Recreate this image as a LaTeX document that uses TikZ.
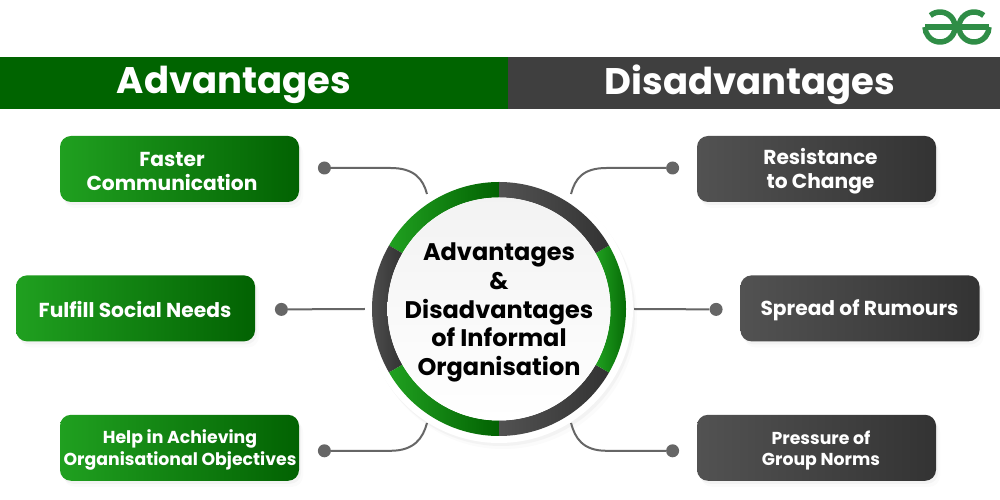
\documentclass[tikz,border=0pt]{standalone}
\usepackage{fontspec}
\setmainfont{Poppins}
\usepackage{xcolor}
\usetikzlibrary{arrows.meta,positioning,shadows}
\definecolor{gfggreen}{HTML}{2F8D46}
\definecolor{barGreen}{HTML}{006400}
\definecolor{barGrey}{HTML}{3F3F3F}
\definecolor{wireGrey}{HTML}{666666}
\definecolor{lightGreen}{HTML}{20A020}
\definecolor{deepGreen}{HTML}{026202}
\definecolor{lightGrey}{HTML}{525252}
\definecolor{deepGrey}{HTML}{333333}
\tikzset{
  softshadow/.style={drop shadow={shadow xshift=2pt,shadow yshift=-3pt,opacity=.06},
    drop shadow={shadow xshift=4pt,shadow yshift=-6pt,opacity=.03}},
  box/.style={rounded corners=11pt,minimum width=239pt,minimum height=66pt,inner sep=0pt,softshadow},
  greenbox/.style={box,left color=lightGreen,right color=deepGreen},
  greybox/.style={box,left color=lightGrey,right color=deepGrey},
  boxtext/.style={text=white,align=center,inner sep=0pt,font=\fontsize{20.2}{24.5}\selectfont\bfseries},
  smalltext/.style={boxtext,font=\fontsize{17.3}{21.5}\selectfont\bfseries},
  bar/.style={minimum height=52pt,inner sep=0pt,text=white,font=\fontsize{37}{37}\selectfont\bfseries},
  dot/.style={circle,fill=wireGrey,minimum size=13pt,inner sep=0pt},
  wire/.style={wireGrey,line width=2pt},
  logo/.style={gfggreen,line width=5.5pt}
}
\begin{document}
\begin{tikzpicture}[x=1pt,y=1pt]
\useasboundingbox (0,0) rectangle (1000,500);
\fill[white] (0,0) rectangle (1000,500);

% header
\node[bar,fill=barGreen,minimum width=508pt] (advbar) at (254,417) {};
\node[bar,fill=barGrey,minimum width=492pt,right=0pt of advbar] (disbar) {};
\node[bar] (advtitle) at (234,415.5) {Advantages};
\node[bar] (distitle) at (750,415.5) {Disadvantages};

% logo
\draw[logo] (925,473) -- (989,473);
\draw[logo] (940,473) ++(130:15) arc (130:-180:15);
\draw[logo] (974,473) ++(50:15) arc (50:360:15);

% boxes on the left
\node[greenbox] (faster) at (179.5,331) {};
\node[greenbox] (social) [below=73pt of faster,xshift=-44pt] {};
\node[greenbox] (help) [below=73pt of social,xshift=44pt] {};
\node[boxtext] (fastertext) at ([shift={(-7.5,-2.5)}]faster.center) {Faster\\Communication};
\node[boxtext] (socialtext) at ([shift={(-.5,-1)}]social.center) {Fulfill Social Needs};
\node[smalltext] (helptext) at ([shift={(.5,-2)}]help.center) {Help in Achieving\\Organisational Objectives};

% boxes on the right
\node[greybox] (resist) at (816.5,331) {};
\node[greybox] (rumours) [below=73pt of resist,xshift=43.5pt] {};
\node[greybox] (norms) [below=73pt of rumours,xshift=-43.5pt] {};
\node[boxtext] (resisttext) at ([shift={(4,-2)}]resist.center) {Resistance\\to Change};
\node[boxtext] (rumourstext) at ([shift={(-.5,-1.5)}]rumours.center) {Spread of Rumours};
\node[smalltext] (normstext) at ([shift={(4.5,-2.5)}]norms.center) {Pressure of\\Group Norms};

% dots
\node[dot] (fasterdot) [right=18.5pt of faster,yshift=1pt] {};
\node[dot] (socialdot) [right=19.5pt of social,yshift=-1pt] {};
\node[dot] (helpdot) [right=18.5pt of help,yshift=-3pt] {};
\node[dot] (resistdot) [left=17.5pt of resist,yshift=1pt] {};
\node[dot] (rumoursdot) [left=17.5pt of rumours,yshift=-1pt] {};
\node[dot] (normsdot) [left=17.5pt of norms,yshift=-3pt] {};

\coordinate (fasterend) at (427,306);
\coordinate (socialend) at (365,191);
\coordinate (helpend) at (427,77);
\coordinate (resistend) at (571,306);
\coordinate (rumoursend) at (634,191);
\coordinate (normsend) at (571,77);

\draw[wire] (fasterdot) -- ++(66,0) .. controls +(24,0) and +(-4,15) .. (fasterend);
\draw[wire] (socialdot) -- (socialend);
\draw[wire] (helpdot) -- ++(66,0) .. controls +(24,0) and +(-4,-15) .. (helpend);
\draw[wire] (resistdot) -- ++(-66,0) .. controls +(-24,0) and +(4,15) .. (resistend);
\draw[wire] (rumoursdot) -- (rumoursend);
\draw[wire] (normsdot) -- ++(-66,0) .. controls +(-24,0) and +(4,-15) .. (normsend);

% circle in the middle
\node[circle,fill=white,minimum size=268pt,inner sep=0pt,softshadow] (halo) at (499,191) {};
\foreach \from/\to/\light/\deep in {90/150/lightGreen/deepGreen,150/210/lightGrey/deepGrey,
    210/270/lightGreen/deepGreen,270/330/lightGrey/deepGrey,
    330/390/lightGreen/deepGreen,30/90/lightGrey/deepGrey}
  \path[left color=\light,right color=\deep] ([shift={(\from:127)}]halo.center) arc (\from:\to:127)
    -- ++(\to:-15.5) arc (\to:\from:111.5) -- cycle;
\node[circle,top color=black!5,bottom color=white,minimum size=223pt,inner sep=0pt] (hub) at (halo.center) {};
\node[text=black,align=center,inner sep=0pt,font=\fontsize{24}{28.6}\selectfont\bfseries] (hubtext) at ([yshift=-3.5pt]hub.center)
  {Advantages\\\&\\Disadvantages\\of Informal\\Organisation};
\end{tikzpicture}
\end{document}
